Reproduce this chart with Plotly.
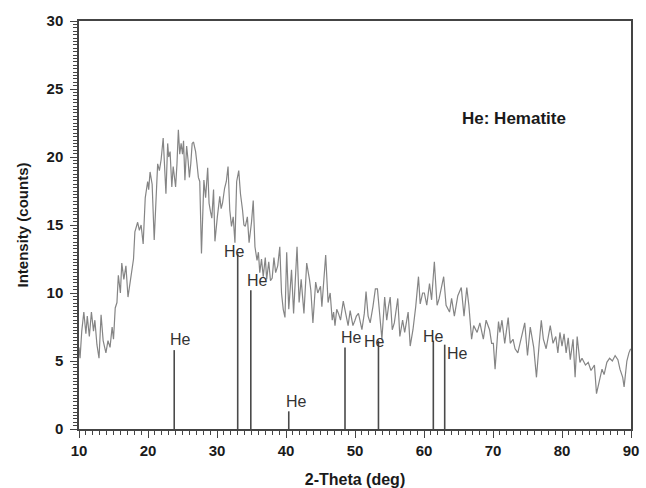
import plotly.graph_objects as go

# Diffraction scan: 2-theta (deg) and intensity (counts)
two_theta = [
    10.0, 10.15, 10.4, 10.7, 11.0, 11.2, 11.5, 11.8, 12.1, 12.3, 12.6, 12.9, 13.2, 13.5,
    13.9, 14.2, 14.5, 14.8, 15.0, 15.25, 15.5, 15.7, 16.0, 16.2, 16.5, 16.8, 17.1, 17.5,
    17.9, 18.1, 18.5, 18.75, 19.0, 19.3, 19.6, 19.95, 20.1, 20.3, 20.6, 20.9, 21.1, 21.4,
    21.65, 21.9, 22.2, 22.4, 22.6, 22.85, 23.0, 23.2, 23.45, 23.65, 23.8, 24.0, 24.2, 24.4,
    24.6, 24.8, 25.0, 25.15, 25.35, 25.6, 25.8, 26.0, 26.2, 26.4, 26.6, 26.9, 27.1, 27.3,
    27.5, 27.75, 28.1, 28.35, 28.65, 28.85, 29.05, 29.25, 29.5, 29.7, 30.05, 30.4, 30.6,
    30.8, 31.1, 31.35, 31.6, 31.85, 32.1, 32.35, 32.6, 32.85, 33.15, 33.4, 33.7, 33.9,
    34.1, 34.4, 34.65, 35.0, 35.25, 35.5, 35.8, 36.0, 36.2, 36.45, 36.7, 37.0, 37.2, 37.5,
    37.75, 38.0, 38.25, 38.5, 38.8, 39.1, 39.35, 39.6, 39.85, 40.1, 40.4, 40.8, 41.1, 41.35,
    41.6, 41.9, 42.2, 42.6, 43.0, 43.4, 43.6, 43.9, 44.3, 44.6, 45.0, 45.2, 45.45, 45.75,
    46.1, 46.4, 46.7, 46.9, 47.1, 47.35, 47.6, 47.9, 48.3, 48.7, 49.0, 49.3, 49.7, 50.0,
    50.2, 50.5, 51.0, 51.35, 51.6, 51.9, 52.2, 52.6, 52.95, 53.25, 53.5, 53.9, 54.3, 54.6,
    54.85, 55.1, 55.4, 55.7, 56.2, 56.5, 56.9, 57.2, 57.7, 58.0, 58.4, 58.8, 59.2, 59.45,
    59.8, 60.05, 60.4, 60.8, 61.1, 61.5, 61.9, 62.2, 62.85, 63.2, 63.7, 64.0, 64.4, 64.9,
    65.4, 65.8, 66.2, 66.5, 66.9, 67.2, 67.7, 68.1, 68.6, 69.0, 69.5, 69.8, 70.05, 70.3,
    70.8, 71.0, 71.3, 71.7, 72.2, 72.5, 72.9, 73.2, 73.6, 74.1, 74.6, 75.0, 75.4, 75.9,
    76.3, 76.7, 77.0, 77.3, 77.7, 78.3, 78.7, 79.1, 79.4, 79.7, 80.0, 80.3, 80.6, 80.9,
    81.2, 81.6, 81.9, 82.2, 82.6, 82.9, 83.4, 83.8, 84.2, 84.7, 85.0, 85.4, 85.8, 86.1,
    86.5, 86.9, 87.3, 87.7, 88.1, 88.4, 88.8, 89.0, 89.4, 89.7, 89.95,
]
intensity = [
    6.0, 5.2, 7.2, 8.6, 7.0, 8.3, 6.8, 8.6, 7.2, 8.0, 6.2, 5.2, 8.4, 6.5,
    5.6, 6.5, 6.0, 7.5, 6.6, 8.9, 9.3, 11.3, 10.0, 12.2, 11.0, 12.0, 9.7, 11.0,
    12.5, 14.5, 15.2, 14.6, 15.0, 13.6, 17.0, 18.2, 17.6, 18.9, 18.0, 13.9, 16.0, 19.5,
    19.0, 19.8, 21.4, 19.4, 17.3, 21.0, 20.0, 20.4, 17.8, 19.3, 18.4, 17.8, 19.5, 22.0,
    20.2, 21.0, 20.2, 21.2, 18.3, 20.8, 19.8, 18.5, 19.5, 21.0, 21.1, 20.4, 19.5, 18.5,
    18.2, 12.9, 18.3, 17.0, 19.2, 16.6, 16.0, 15.5, 17.6, 13.8, 15.6, 17.1, 16.2,
    16.6, 17.7, 18.2, 19.3, 16.1, 14.9, 15.6, 13.7, 18.2, 19.0, 17.3, 16.1, 15.0,
    14.9, 15.6, 13.7, 15.2, 16.8, 13.4, 12.4, 13.0, 11.5, 12.5, 11.2, 12.6, 11.0, 12.3,
    10.9, 11.1, 12.6, 11.5, 12.0, 13.4, 10.0, 8.8, 8.2, 13.0, 8.8, 11.7, 8.5, 11.0,
    13.4, 9.3, 11.0, 8.5, 12.2, 11.0, 10.2, 7.8, 10.8, 10.0, 10.5, 9.0, 11.0, 12.8,
    9.3, 10.0, 8.0, 8.6, 7.6, 8.8, 8.5, 8.0, 9.4, 8.3, 7.6, 8.7, 7.6, 8.0,
    8.3, 8.5, 7.3, 8.5, 10.1, 8.3, 7.8, 9.0, 10.3, 10.3, 8.7, 6.6, 9.7, 8.0,
    9.0, 9.7, 7.3, 7.8, 9.6, 6.8, 8.0, 7.1, 8.6, 6.1, 7.3, 9.0, 11.2, 9.2,
    10.0, 10.0, 9.1, 10.7, 9.5, 12.3, 9.1, 9.6, 11.2, 9.1, 8.6, 9.6, 8.3, 9.8,
    10.4, 8.3, 10.4, 9.1, 6.6, 7.6, 7.1, 7.8, 6.6, 8.0, 7.3, 6.3, 6.3, 4.4,
    7.9, 7.1, 8.0, 6.3, 8.2, 6.3, 6.6, 5.9, 5.6, 6.6, 7.8, 5.4, 7.5, 6.0,
    3.8, 6.3, 8.0, 6.6, 5.9, 7.6, 6.3, 6.8, 5.6, 7.1, 6.1, 7.0, 5.6, 6.7,
    5.1, 6.6, 3.8, 6.8, 4.9, 5.2, 4.7, 4.9, 4.3, 4.7, 2.6, 3.5, 4.4, 4.0,
    4.9, 5.2, 5.0, 5.4, 5.1, 4.4, 3.8, 3.1, 5.0, 5.6, 5.9,
]

# Hematite reference reflections
peak_pos = [23.8, 33.0, 34.9, 40.4, 48.55, 53.4, 61.35, 63.0]
peak_height = [5.8, 12.9, 10.2, 1.3, 6.0, 6.5, 6.5, 6.2]
peak_label = ["He"] * len(peak_pos)
# label nudges in pixels (x, y) relative to each stick top
label_dx = [6, -3, 7, 8, 6, -4, 0, 13]
label_dy = [3, -5, 2, 2, 2, -8, -3, -16]

x_ticks = [10, 20, 30, 40, 50, 60, 70, 80, 90]
y_ticks = [0, 5, 10, 15, 20, 25, 30]

stick_x, stick_y = [], []
for p, h in zip(peak_pos, peak_height):
    stick_x += [p, p, None]
    stick_y += [0, h, None]

fig = go.Figure()
fig.add_trace(go.Scatter(
    x=two_theta, y=intensity, mode="lines",
    line=dict(color="#858585", width=1.2), showlegend=False,
))
fig.add_trace(go.Scatter(
    x=stick_x, y=stick_y, mode="lines",
    line=dict(color="#4a4a4a", width=1.6), showlegend=False,
))

for p, h, t, dx, dy in zip(peak_pos, peak_height, peak_label, label_dx, label_dy):
    fig.add_annotation(
        x=p, y=h, text=t, showarrow=False, xanchor="center", yanchor="bottom",
        xshift=dx, yshift=dy - 3,
        font=dict(family="Liberation Sans, Arial", size=16, color="#333333"),
    )

fig.add_annotation(
    x=73.0, y=22.8, text="<b>He: Hematite</b>", showarrow=False,
    xanchor="center", yanchor="middle",
    font=dict(family="Liberation Sans, Arial", size=17, color="#1a1a1a"),
)

axis_common = dict(
    showgrid=False, zeroline=False, showline=True, linecolor="#444444", linewidth=1.5,
    mirror=True, ticks="outside", tickcolor="#444444", tickwidth=1.3, ticklen=7,
    automargin=False,
    tickfont=dict(family="Liberation Sans, Arial", size=15, color="#1a1a1a", weight="bold"),
)

fig.update_xaxes(
    range=[10, 90], tickvals=x_ticks,
    minor=dict(dtick=1, ticks="outside", ticklen=4, tickcolor="#444444", tickwidth=1),
    title=dict(text="<b>2-Theta (deg)</b>", standoff=16,
               font=dict(family="Liberation Sans, Arial", size=16, color="#1a1a1a")),
    **axis_common,
)
fig.update_yaxes(
    range=[0, 30], tickvals=y_ticks, ticklabelstandoff=4,
    minor=dict(dtick=0.25, ticks="outside", ticklen=4, tickcolor="#444444", tickwidth=1),
    title=dict(text="<b>Intensity (counts)</b>", standoff=14,
               font=dict(family="Liberation Sans, Arial", size=15, color="#1a1a1a")),
    **axis_common,
)

fig.update_layout(
    width=646, height=488,
    margin=dict(l=79, r=15, t=21, b=59),
    paper_bgcolor="white", plot_bgcolor="white",
)

fig.write_html("out.html")
